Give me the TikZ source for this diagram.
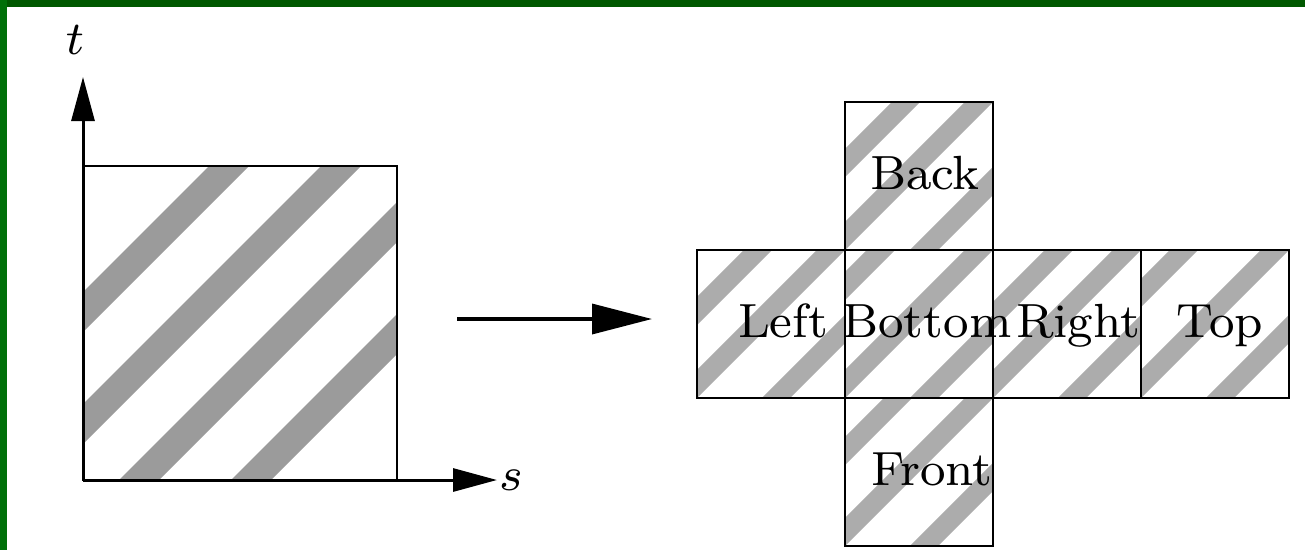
\documentclass[tikz,border=0pt]{standalone}
\usetikzlibrary{arrows.meta}
\usepackage{graphicx}
\definecolor{gbtop}{RGB}{0,88,0}
\definecolor{gbleft}{RGB}{0,112,8}
\definecolor{bigstripe}{RGB}{155,155,155}
\definecolor{cellstripe}{RGB}{172,172,172}
% #1 left x, #2 bottom y, #3 first stripe offset
\newcommand\facestripes[3]{%
  \begin{scope}
    \clip (#1,#2) rectangle ++(148,-148);
    \foreach \c in {#3,-14,79}
      \draw[cellstripe,line width=20pt] ({#1+\c-20},{#2+20}) -- ({#1+\c+170},{#2-170});
  \end{scope}}
\newcommand\facetext[1]{\scalebox{6.0}{\fontsize{8}{9}\selectfont #1}}
\newcommand\axistext[1]{\scalebox{5.9}{\fontsize{8}{9}\selectfont $#1$}}
\begin{document}
\begin{tikzpicture}[x=1pt,y=-1pt,
  frame/.style={draw=black,line width=2.5pt,inner sep=0pt},
  cell/.style={frame,minimum width=148pt,minimum height=148pt},
  facelbl/.style={anchor=base,inner sep=0pt},
  axislbl/.style={anchor=base,inner sep=0pt},
  axis/.style={line width=3pt,-{Triangle[length=44pt,width=23pt]}},
  maparrow/.style={line width=3.5pt,-{Triangle[length=60pt,width=30pt]}}]
\useasboundingbox (0,0) rectangle (1305,550);
\fill[white] (0,0) rectangle (1305,550);
\fill[gbtop] (0,0) rectangle (1305,7);
\fill[gbleft] (0,0) rectangle (7,550);
% big texture stripes
\begin{scope}
  \clip (83,480) rectangle (397,166);
  \foreach \c in {-168,-56,56,168}
    \draw[bigstripe,line width=28.3pt] ({83+\c-20},500) -- ({83+\c+340},140);
\end{scope}
\node[frame,minimum width=314pt,minimum height=314pt] (tex) at (240,323) {};
% axes
\coordinate (origin) at (83,480);
\coordinate (ttip) at (83,77);
\coordinate (stip) at (497,480);
\draw[axis] (origin) -- (ttip);
\draw[axis] (origin) -- (stip);
\node[axislbl] (tlbl) at (75,54) {\axistext{t}};
\node[axislbl] (slbl) at (511,490) {\axistext{s}};
% mapping arrow
\coordinate (mapA) at (457,319);
\coordinate (mapB) at (652,319);
\draw[maparrow] (mapA) -- (mapB);
% cube faces stripes
\facestripes{845}{250}{-87}
\facestripes{697}{398}{-87}
\facestripes{845}{398}{-112}
\facestripes{993}{398}{-82}
\facestripes{1141}{398}{-105}
\facestripes{845}{546}{-95}
% cube faces
\node[cell] (back) at (919,176) {};
\node[cell] (left) at (771,324) {};
\node[cell] (bottom) at (919,324) {};
\node[cell] (right) at (1067,324) {};
\node[cell] (top) at (1215,324) {};
\node[cell] (front) at (919,472) {};
\node[facelbl] (backlbl) at (925,189) {\facetext{Back}};
\node[facelbl] (leftlbl) at (783,337) {\facetext{Left}};
\node[facelbl] (bottomlbl) at (927,337) {\facetext{Bottom}};
\node[facelbl] (rightlbl) at (1078,337) {\facetext{Right}};
\node[facelbl] (toplbl) at (1220,337) {\facetext{Top}};
\node[facelbl] (frontlbl) at (932,485) {\facetext{Front}};
\end{tikzpicture}
\end{document}
